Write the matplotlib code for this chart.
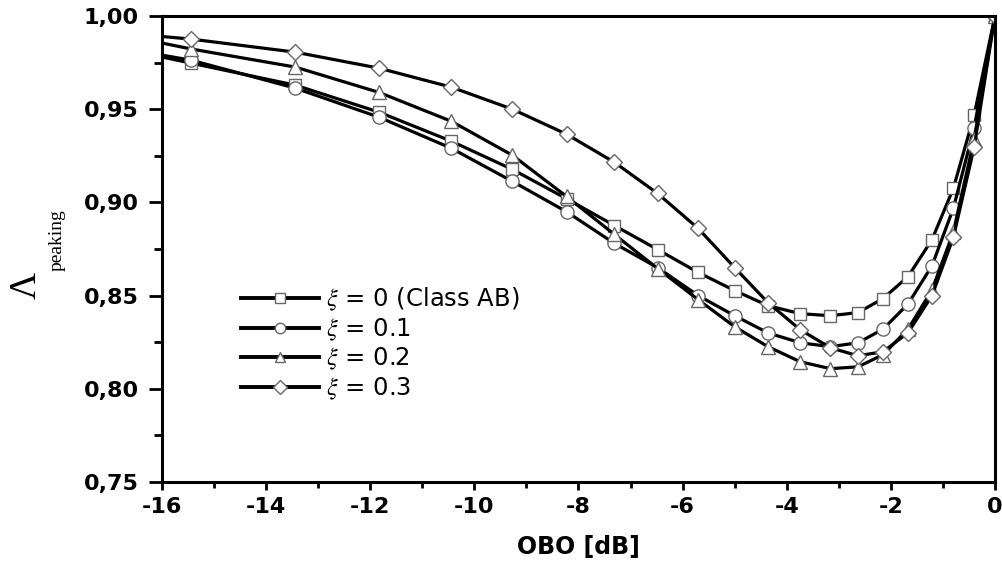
import matplotlib
matplotlib.use("Agg")
import matplotlib.pyplot as plt
from matplotlib.ticker import MultipleLocator, FuncFormatter

plt.rcParams['font.family'] = ['DejaVu Sans']
plt.rcParams['mathtext.fontset'] = 'stix'

obo = [-16.0, -15.44, -13.44, -11.83, -10.44, -9.27, -8.23, -7.31, -6.48, -5.70,
       -5.00, -4.36, -3.74, -3.16, -2.63, -2.15, -1.67, -1.21, -0.80, -0.40, 0.0]

xi_0 = [0.978, 0.9747, 0.9629, 0.9484, 0.9328, 0.9177, 0.902, 0.8876, 0.8747, 0.8624,
        0.8527, 0.8446, 0.8403, 0.8392, 0.8409, 0.8484, 0.8602, 0.880, 0.9075, 0.9468, 1.0]
xi_1 = [0.979, 0.9763, 0.9613, 0.9457, 0.929, 0.9113, 0.8950, 0.878, 0.865, 0.850,
        0.8392, 0.830, 0.8247, 0.8226, 0.8247, 0.832, 0.8455, 0.866, 0.8968, 0.940, 1.0]
xi_2 = [0.9855, 0.9823, 0.9726, 0.959, 0.9435, 0.9253, 0.9032, 0.8828, 0.8645, 0.8478,
        0.8333, 0.8226, 0.8145, 0.8108, 0.8118, 0.8183, 0.832, 0.853, 0.884, 0.934, 1.0]
xi_3 = [0.989, 0.9876, 0.9806, 0.972, 0.9618, 0.950, 0.9366, 0.9215, 0.9048, 0.886,
        0.865, 0.8462, 0.8317, 0.822, 0.8177, 0.8199, 0.8301, 0.850, 0.8812, 0.9296, 1.0]

series = [xi_0, xi_1, xi_2, xi_3]
labels = [r'$\xi$ = 0 (Class AB)', r'$\xi$ = 0.1', r'$\xi$ = 0.2', r'$\xi$ = 0.3']
markers = ['s', 'o', '^', 'D']
msizes = [8.5, 9.5, 10.5, 8.5]

fig = plt.figure(figsize=(10.03, 5.65), dpi=100)
ax = fig.add_axes([0.1615, 0.1469, 0.992 - 0.1615, 0.9717 - 0.1469])

for ys, lab, m, ms in zip(series, labels, markers, msizes):
    ax.plot(obo, ys, color='black', lw=2.3, marker=m, ms=ms,
            markerfacecolor='white', markeredgecolor='#666666', markeredgewidth=1.0,
            markevery=list(range(1, len(obo))), label=lab)

ax.set_xlim(-16, 0)
ax.set_ylim(0.75, 1.0)
ax.xaxis.set_major_locator(MultipleLocator(2))
ax.xaxis.set_minor_locator(MultipleLocator(1))
ax.yaxis.set_major_locator(MultipleLocator(0.05))
ax.yaxis.set_minor_locator(MultipleLocator(0.025))
ax.yaxis.set_major_formatter(FuncFormatter(lambda v, p: f"{v:.2f}".replace('.', ',')))
ax.xaxis.set_major_formatter(FuncFormatter(lambda v, p: f"{v:.0f}"))

for s in ax.spines.values():
    s.set_linewidth(2.2)
ax.tick_params(axis='y', which='major', direction='out', length=9.5, width=2.0, pad=7, labelsize=16)
ax.tick_params(axis='y', which='minor', direction='out', length=5.5, width=2.0)
ax.tick_params(axis='x', which='major', direction='out', length=6, width=2.0, pad=5, labelsize=16)
ax.tick_params(axis='x', which='minor', direction='out', length=4, width=2.0)
ax.tick_params(top=False, right=False, which='both')
for t in ax.get_xticklabels() + ax.get_yticklabels():
    t.set_fontweight('bold')

ax.set_xlabel('OBO [dB]', fontsize=17, fontweight='bold', labelpad=13)

fig.text(26 / 1003, 1 - 285 / 565, '\u039b', rotation=90, fontsize=27,
         family='Liberation Serif', ha='center', va='center')
fig.text(57 / 1003, 1 - 240 / 565, 'peaking', rotation=90, fontsize=14,
         family='Liberation Serif', ha='center', va='center')

leg = ax.legend(loc='upper left', bbox_to_anchor=(0.095, 0.421), frameon=False,
                fontsize=17.5, handlelength=3.2, handletextpad=0.3, labelspacing=0.14,
                borderaxespad=0, borderpad=0)
for h in leg.legend_handles:
    h.set_markersize(7.5)
    h.set_linewidth(2.8)

fig.savefig('out.png', dpi=100)
